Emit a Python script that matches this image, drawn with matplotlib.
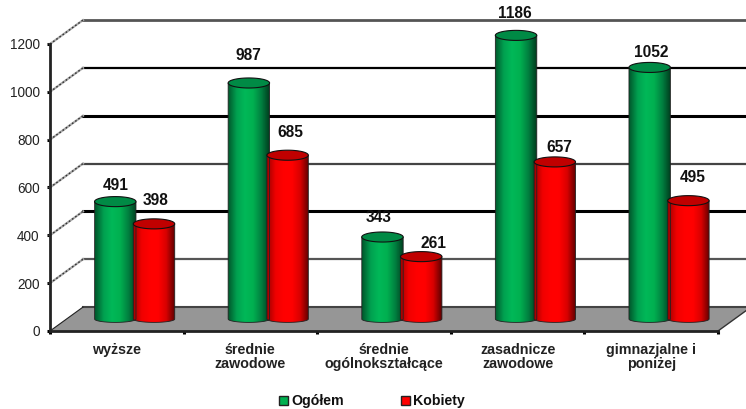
import numpy as np
import matplotlib.pyplot as plt
from matplotlib.colors import LinearSegmentedColormap
from matplotlib.patches import Polygon, Patch

# %% Data
categories = ['wyższe', 'średnie\nzawodowe', 'średnie\nogólnokształcące',
              'zasadnicze\nzawodowe', 'gimnazjalne i\nponiżej']
ogolem = [491, 987, 343, 1186, 1052]
kobiety = [398, 685, 261, 657, 495]
yticks = [0, 200, 400, 600, 800, 1000, 1200]

# label nudges in pixels from the top of each bar
og_nudge = [(0, 16), (0, 27), (-4, 20), (-1, 22), (2, 15)]
kob_nudge = [(2, 23), (3, 23), (12, 13), (4, 14), (4, 23)]

# %% Layout
W, H = 746, 409
plt.rcParams['font.family'] = ['Liberation Sans', 'DejaVu Sans']
fig = plt.figure(figsize=(W / 100, H / 100), dpi=100)
ax = fig.add_axes([50 / W, 1 - 331 / H, 668 / W, 287 / H])

depth_x, depth_y = 0.247, 100  # back wall offset in data units
mid_x, mid_y = depth_x / 2, depth_y / 2

green_cm = LinearSegmentedColormap.from_list('g', ['#00582c', '#00a050', '#00b858', '#00b050', '#008040', '#003c1e'])
red_cm = LinearSegmentedColormap.from_list('r', ['#a00000', '#f00000', '#ff0000', '#ff0000', '#d80000', '#600000'])


def cylinder(x, value, half, cmap, top_color):
    t = np.linspace(0, np.pi, 40)
    base = mid_y
    top = mid_y + value
    lower = base - 14 * np.sin(t)
    xs = x + half * np.cos(t)
    body = np.r_[np.c_[xs[::-1], lower[::-1]], [[x + half, top], [x - half, top]]]
    im = ax.imshow(np.linspace(0, 1, 64).reshape(1, -1), cmap=cmap, aspect='auto',
                   extent=(x - half, x + half, base - 16, top), zorder=4, interpolation='bilinear')
    clip = Polygon(body, closed=True, transform=ax.transData)
    # images get cut at the axes box otherwise, the tallest bar goes past it
    im.set_clip_box(fig.bbox)
    im.set_clip_path(clip)
    ax.add_patch(Polygon(body, closed=True, fill=False, ec='#222222', lw=0.6, zorder=4.1, clip_on=False))
    tt = np.linspace(0, 2 * np.pi, 80)
    ax.fill(x + half * np.cos(tt), top + 21 * np.sin(tt), fc=top_color, ec='#111111', lw=0.8, zorder=4.2, clip_on=False)


# %% Walls and floor
ax.add_patch(Polygon([(0, 0), (depth_x, depth_y), (5 + depth_x, depth_y), (5, 0)], closed=True,
                     fc='#969696', ec='none', zorder=1, clip_on=False))
ax.plot([depth_x, 5 + depth_x], [depth_y, depth_y], color='#444444', lw=1.5, zorder=1.2, clip_on=False)
ax.plot([5, 5 + depth_x], [0, depth_y], color='#333333', lw=1.0, zorder=1.2, clip_on=False)

grid_colors = {200: '#555555', 400: '#000000', 600: '#444444', 800: '#000000', 1000: '#000000', 1200: '#555555'}
grid_widths = {200: 1.6, 400: 2.2, 600: 1.6, 800: 2.2, 1000: 1.6, 1200: 2.0}
for v in yticks:
    if v > 0:
        ax.plot([depth_x, 5 + depth_x], [v + depth_y] * 2, color=grid_colors[v], lw=grid_widths[v], zorder=2, clip_on=False)
        ax.plot([0, depth_x], [v, v + depth_y], color='#aaaaaa', lw=1.6, zorder=2, clip_on=False)
        ax.plot([0, depth_x], [v, v + depth_y], color='#333333', lw=1.0, ls=(0, (1.2, 1.6)), zorder=2.1, clip_on=False)
ax.plot([0, depth_x], [0, depth_y], color='#222222', lw=0.8, zorder=2, clip_on=False)

# %% Bars
for i in range(len(categories)):
    c = i + 0.5 + mid_x
    cylinder(c - 0.135, ogolem[i], 0.155, green_cm, '#008a45')
    cylinder(c + 0.155, kobiety[i], 0.155, red_cm, '#c00000')
    ax.annotate(str(ogolem[i]), (c - 0.135, ogolem[i] + mid_y), xytext=og_nudge[i], textcoords='offset pixels',
                ha='center', va='center', fontsize=11.2, fontweight='bold', color='#111111', zorder=6, annotation_clip=False)
    ax.annotate(str(kobiety[i]), (c + 0.155, kobiety[i] + mid_y), xytext=kob_nudge[i], textcoords='offset pixels',
                ha='center', va='center', fontsize=11.2, fontweight='bold', color='#111111', zorder=6, annotation_clip=False)

# %% Axes
ax.set_xlim(0, 5)
ax.set_ylim(0, 1200)
ax.patch.set_visible(False)
for s in ['top', 'right']:
    ax.spines[s].set_visible(False)
for s in ['left', 'bottom']:
    ax.spines[s].set_linewidth(2.0)
    ax.spines[s].set_color('#222222')
    ax.spines[s].set_zorder(3)
ax.set_yticks(yticks)
ax.tick_params(axis='y', length=2, width=2.2, color='black', labelsize=9.8, labelcolor='#222222', pad=5.5)
ax.set_xticks(range(6))
ax.set_xticklabels([])
ax.tick_params(axis='x', which='major', length=2.2, width=2.2, color='black')
ax.set_xticks(np.arange(5) + 0.5, labels=categories, minor=True)
ax.tick_params(axis='x', which='minor', length=0, pad=8.5, labelsize=10.3, labelcolor='#222222')
for lab in ax.get_xticklabels(minor=True):
    lab.set_fontweight('bold')
    lab.set_linespacing(1.0)

handles = [Patch(fc='#00b050', ec='#222222', lw=1, label='Ogółem'),
           Patch(fc='#ff0000', ec='#222222', lw=1, label='Kobiety')]
fig.legend(handles=handles, loc='center', bbox_to_anchor=(372 / W, 1 - 401.5 / H), ncol=2, frameon=False,
           handlelength=0.62, handleheight=0.62, handletextpad=0.25, columnspacing=4.0,
           prop={'size': 10.2, 'weight': 'bold'}, borderpad=0, labelcolor='#111111')

fig.savefig('out.png', dpi=100)
